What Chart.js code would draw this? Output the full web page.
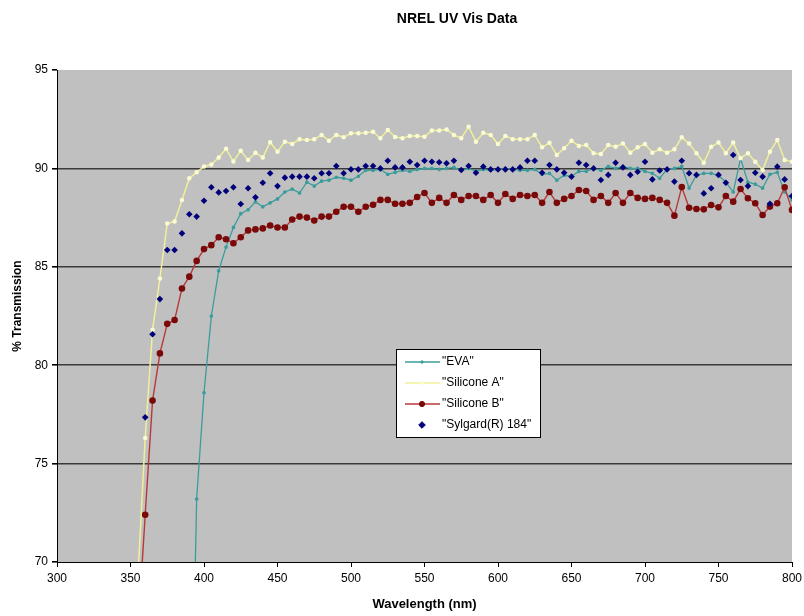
<!DOCTYPE html>
<html>
<head>
<meta charset="utf-8">
<title>NREL UV Vis Data</title>
<script src="https://cdn.jsdelivr.net/npm/chart.js@4"></script>
<style>
  body { margin: 0; background: #ffffff; }
  #wrap { width: 804px; height: 616px; }
</style>
</head>
<body>
<div id="wrap"><canvas id="uvChart" width="804" height="616"></canvas></div>
<script>
// wavelength steps, every 5 nm (values below 70 % fall off the axis)
const wavelengths = [
  355, 360, 365, 370, 375, 380, 385, 390, 395, 400,
  405, 410, 415, 420, 425, 430, 435, 440, 445, 450,
  455, 460, 465, 470, 475, 480, 485, 490, 495, 500,
  505, 510, 515, 520, 525, 530, 535, 540, 545, 550,
  555, 560, 565, 570, 575, 580, 585, 590, 595, 600,
  605, 610, 615, 620, 625, 630, 635, 640, 645, 650,
  655, 660, 665, 670, 675, 680, 685, 690, 695, 700,
  705, 710, 715, 720, 725, 730, 735, 740, 745, 750,
  755, 760, 765, 770, 775, 780, 785, 790, 795, 800
];

const eva = [
  null, null, null, null, null, null, null, 55, 73.2, 78.6,
  82.5, 84.8, 86.0, 87.0, 87.7, 87.9, 88.3, 88.05, 88.25, 88.45,
  88.8, 88.95, 88.75, 89.3, 89.1, 89.35, 89.4, 89.55, 89.5, 89.4,
  89.6, 89.9, 89.9, 89.95, 89.7, 89.8, 89.9, 89.85, 89.95, 90.0,
  90.0, 89.95, 90.0, 90.05, 89.9, 90.0, 89.85, 89.95, 89.9, 89.95,
  90.0, 89.95, 89.9, 89.9, 89.95, 89.7, 89.75, 89.4, 89.65, 89.6,
  89.85, 89.85, 90.0, 89.9, 90.1, 90.0, 90.1, 90.0, 90.0, 89.85,
  89.75, 89.5, 89.95, 90.0, 90.1, 89.0, 89.65, 89.75, 89.75, 89.65,
  89.3, 88.8, 90.5, 89.3, 89.2, 89.0, 89.7, 89.8, 88.8, 88.4
];

const siliconeA = [
  69.2, 76.3, 81.8, 84.4, 87.2, 87.3, 88.4, 89.5, 89.8, 90.1,
  90.2, 90.55, 91.0, 90.35, 90.9, 90.43, 90.8, 90.55, 91.33, 90.85,
  91.36, 91.24, 91.48, 91.44, 91.48, 91.7, 91.41, 91.7, 91.58, 91.78,
  91.78, 91.81, 91.86, 91.53, 91.95, 91.6, 91.53, 91.65, 91.65, 91.61,
  91.92, 91.92, 91.98, 91.7, 91.53, 92.12, 91.36, 91.81, 91.7, 91.24,
  91.65, 91.48, 91.48, 91.48, 91.7, 91.07, 91.3, 90.68, 91.02, 91.41,
  91.14, 91.19, 90.77, 90.73, 91.19, 91.1, 91.27, 90.8, 91.07, 91.24,
  90.8, 90.97, 90.8, 90.97, 91.58, 91.27, 90.77, 90.29, 91.1, 91.31,
  90.77, 91.31, 90.51, 90.77, 90.34, 89.92, 90.85, 91.44, 90.43, 90.34
];

const siliconeB = [
  66.4, 72.4, 78.2, 80.6, 82.1, 82.3, 83.9, 84.5, 85.3, 85.9,
  86.1, 86.5, 86.4, 86.2, 86.5, 86.85, 86.9, 86.95, 87.1, 87.0,
  87.0, 87.4, 87.55, 87.5, 87.35, 87.55, 87.55, 87.8, 88.05, 88.05,
  87.8, 88.05, 88.15, 88.4, 88.4, 88.2, 88.2, 88.25, 88.55, 88.75,
  88.25, 88.5, 88.25, 88.65, 88.4, 88.6, 88.6, 88.4, 88.65, 88.25,
  88.7, 88.45, 88.65, 88.6, 88.65, 88.25, 88.8, 88.25, 88.45, 88.6,
  88.9, 88.85, 88.4, 88.6, 88.25, 88.75, 88.25, 88.75, 88.5, 88.45,
  88.5, 88.4, 88.25, 87.6, 89.05, 88.0, 87.94, 87.92, 88.14, 88.02,
  88.6, 88.31, 88.95, 88.48, 88.23, 87.63, 88.06, 88.23, 89.04, 87.89
];

const sylgard = [
  null, 77.35, 81.57, 83.36, 85.85, 85.85, 86.7, 87.67, 87.55, 88.36,
  89.04, 88.78, 88.85, 89.04, 88.19, 88.99, 88.53, 89.27, 89.75, 89.1,
  89.53, 89.58, 89.58, 89.58, 89.5, 89.75, 89.75, 90.12, 89.75, 89.95,
  89.95, 90.12, 90.12, 90.0, 90.39, 90.05, 90.05, 90.34, 90.17, 90.39,
  90.34, 90.31, 90.26, 90.39, 89.92, 90.12, 89.78, 90.09, 89.95, 89.95,
  89.95, 89.95, 90.05, 90.39, 90.39, 89.78, 90.17, 89.95, 89.78, 89.58,
  90.29, 90.17, 90.0, 89.41, 89.67, 90.29, 90.05, 89.67, 89.83, 90.34,
  89.44, 89.89, 89.95, 89.33, 90.39, 89.75, 89.67, 88.73, 88.99, 89.67,
  89.27, 90.68, 89.41, 89.1, 89.78, 89.58, 88.2, 90.09, 89.44, 88.6
];

const seriesNames = ['"EVA"', '"Silicone A"', '"Silicone B"', '"Sylgard(R) 184"'];
const xTicks = [300, 800, 50];   // min, max, step
const yTicks = [70, 95, 5];

const FONT = '"Liberation Sans", Arial, sans-serif';

function toPoints(values) {
  return wavelengths.map((w, i) => ({ x: w, y: values[i] }));
}

// gray plot area like the old Excel chart
const plotBackground = {
  id: 'plotBackground',
  beforeDraw(chart) {
    const a = chart.chartArea;
    const ctx = chart.ctx;
    ctx.save();
    ctx.fillStyle = '#c0c0c0';
    ctx.fillRect(a.left, a.top, a.right - a.left, a.bottom - a.top);
    ctx.restore();
  }
};

// title, axis titles and the boxed legend
const decorations = {
  id: 'decorations',
  afterDraw(chart) {
    const ctx = chart.ctx;
    const a = chart.chartArea;
    ctx.save();
    ctx.fillStyle = '#000';
    ctx.textBaseline = 'middle';
    ctx.textAlign = 'center';

    ctx.font = 'bold 14px ' + FONT;
    ctx.fillText('NREL UV Vis Data', 457, 19);

    ctx.font = 'bold 13px ' + FONT;
    ctx.fillText('Wavelength (nm)', (a.left + a.right) / 2, 604);

    ctx.save();
    ctx.translate(18, 306);
    ctx.rotate(-Math.PI / 2);
    ctx.font = 'bold 12px ' + FONT;
    ctx.fillText('% Transmission', 0, 0);
    ctx.restore();

    // legend box
    const bx = 396.5, by = 349.5, bw = 144, bh = 88;
    ctx.fillStyle = '#ffffff';
    ctx.fillRect(bx, by, bw, bh);
    ctx.strokeStyle = '#000';
    ctx.lineWidth = 1;
    ctx.strokeRect(bx, by, bw, bh);

    ctx.font = '12px ' + FONT;
    ctx.textAlign = 'left';
    chart.data.datasets.forEach((ds, i) => {
      const y = 362 + i * 21;
      if (ds.showLine !== false) {
        ctx.strokeStyle = ds.borderColor;
        ctx.lineWidth = ds.borderWidth;
        ctx.beginPath();
        ctx.moveTo(405, y);
        ctx.lineTo(440, y);
        ctx.stroke();
      }
      ctx.fillStyle = ds.pointBackgroundColor;
      ctx.strokeStyle = ds.pointBorderColor;
      ctx.lineWidth = 1;
      Chart.helpers.drawPoint(ctx, {
        pointStyle: ds.pointStyle,
        radius: ds.pointRadius,
        rotation: 0,
        borderWidth: 1
      }, 422, y);
      ctx.fillStyle = '#000';
      ctx.fillText(seriesNames[i], 442, y);
    });
    ctx.restore();
  }
};

const ctx = document.getElementById('uvChart').getContext('2d');
new Chart(ctx, {
  type: 'line',
  data: {
    datasets: [
      {
        label: seriesNames[0],
        data: toPoints(eva),
        borderColor: '#3c9c9c',
        borderWidth: 1.3,
        pointStyle: 'circle',
        pointRadius: 1.2,
        pointBackgroundColor: '#3c9c9c',
        pointBorderColor: '#3c9c9c',
        tension: 0,
        order: 4
      },
      {
        label: seriesNames[1],
        data: toPoints(siliconeA),
        borderColor: '#f0f09a',
        borderWidth: 1.5,
        pointStyle: 'circle',
        pointRadius: 1.5,
        pointBackgroundColor: '#fbfbd2',
        pointBorderColor: '#fbfbd2',
        tension: 0,
        order: 3
      },
      {
        label: seriesNames[2],
        data: toPoints(siliconeB),
        borderColor: '#b83838',
        borderWidth: 1.4,
        pointStyle: 'circle',
        pointRadius: 2.6,
        pointBackgroundColor: '#7a0a0a',
        pointBorderColor: '#7a0a0a',
        tension: 0,
        order: 2
      },
      {
        label: seriesNames[3],
        data: toPoints(sylgard),
        showLine: false,
        borderColor: '#00007a',
        borderWidth: 0,
        pointStyle: 'rectRot',
        pointRadius: 3.3,
        pointBackgroundColor: '#00007a',
        pointBorderColor: '#00007a',
        order: 1
      }
    ]
  },
  options: {
    responsive: false,
    animation: false,
    devicePixelRatio: 1,
    spanGaps: false,
    layout: { padding: { top: 70, right: 12, left: 0, bottom: 0 } },
    plugins: {
      legend: { display: false },
      title: { display: false },
      tooltip: { enabled: false }
    },
    scales: {
      x: {
        type: 'linear',
        min: xTicks[0],
        max: xTicks[1],
        ticks: { stepSize: xTicks[2], color: '#000', font: { family: FONT, size: 12 }, padding: 4, maxRotation: 0 },
        grid: { drawOnChartArea: false, drawTicks: true, tickLength: 5, tickColor: '#000' },
        border: { display: true, color: '#000', width: 1 },
        afterFit(scale) {
          scale.height = 54;
          scale.paddingLeft = 0;
          scale.paddingRight = 0;
        }
      },
      y: {
        min: yTicks[0],
        max: yTicks[1],
        ticks: { stepSize: yTicks[2], color: '#000', font: { family: FONT, size: 12 }, padding: 4 },
        grid: {
          color: c => (c.tick && (c.tick.value === 95 || c.tick.value === 70)) ? 'rgba(0,0,0,0)' : '#3a3a3a',
          lineWidth: 1.6,
          tickLength: 5,
          tickColor: '#000'
        },
        border: { display: true, color: '#000', width: 1 },
        afterFit(scale) { scale.width = 57; }
      }
    }
  },
  plugins: [plotBackground, decorations]
});
</script>
</body>
</html>
